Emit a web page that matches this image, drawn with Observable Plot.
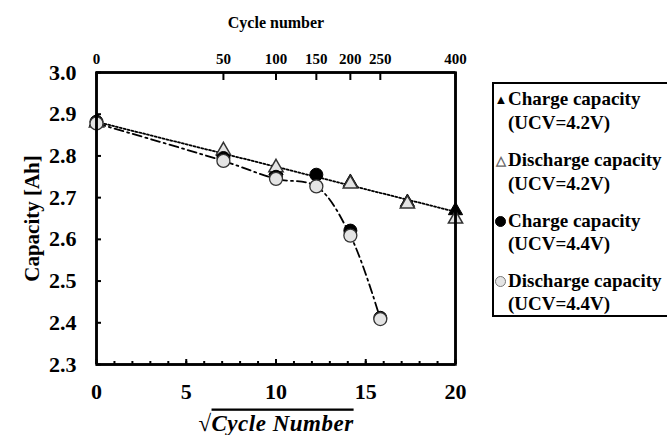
<!DOCTYPE html>
<html><head><meta charset="utf-8">
<script src="https://cdn.jsdelivr.net/npm/d3@7"></script>
<script src="https://cdn.jsdelivr.net/npm/@observablehq/plot@0.6"></script>
<style>
body{margin:0;background:#fff;overflow:hidden;}
#wrap{position:relative;width:667px;height:435px;overflow:hidden;background:#fff;}
#legend{position:absolute;left:492px;top:82px;width:200px;height:235px;border:2px solid #000;box-sizing:border-box;
  font:bold 19px "Liberation Serif",serif;color:#000;padding-top:3px;}
.item{margin-bottom:14px;}
.l1,.l2{line-height:23px;white-space:nowrap;}
.l2{padding-left:14px;}
.sym{display:inline-block;width:14px;text-align:center;font-size:13px;vertical-align:1px;}
.circ{display:inline-block;width:11px;height:11px;border-radius:50%;box-sizing:border-box;margin:0 2px 0 1px;vertical-align:0px;}
</style></head>
<body><div id="wrap"></div>
<script>
// Data (cycle numbers; x is plotted as the square root of the cycle number)
const cycles42 = [0, 50, 100, 200, 300, 400];
const charge42 = [2.882, 2.810, 2.765, 2.737, 2.689, 2.669];
const discharge42 = [2.879, 2.813, 2.772, 2.733, 2.685, 2.649];
const cycles44 = [0, 50, 100, 150, 200, 250];
const charge44 = [2.882, 2.795, 2.750, 2.755, 2.621, 2.412];
const discharge44 = [2.878, 2.788, 2.745, 2.727, 2.609, 2.409];
const xDomain = [0, 20];
const yDomain = [2.3, 3.0];
const sqrtTicks = [0, 5, 10, 15, 20];
const minorTicks = [0,1,2,3,4,5,6,7,8,9,10,11,12,13,14,15,16,17,18,19,20];
const cycleTicks = [0, 50, 100, 150, 200, 250, 400];
const yTicks = [2.3, 2.4, 2.5, 2.6, 2.7, 2.8, 2.9, 3.0];
const legendItems = [
  {name: "Charge capacity", ucv: "(UCV=4.2V)"},
  {name: "Discharge capacity", ucv: "(UCV=4.2V)"},
  {name: "Charge capacity", ucv: "(UCV=4.4V)"},
  {name: "Discharge capacity", ucv: "(UCV=4.4V)"}
];

const mk = (cyc, vals) => cyc.map((c, i) => ({x: Math.sqrt(c), y: vals[i]}));
const c42 = mk(cycles42, charge42), d42 = mk(cycles42, discharge42);
const c44 = mk(cycles44, charge44), d44 = mk(cycles44, discharge44);
const topTicks = cycleTicks.map(Math.sqrt);

const W = 667, H = 435, mT = 72, mB = 71, mL = 96, mR = 212;
const pw = W - mL - mR, ph = H - mT - mB;
const serif = '"Liberation Serif", serif';

const svg = Plot.plot({
  width: W, height: H,
  marginTop: mT, marginBottom: mB, marginLeft: mL, marginRight: mR,
  style: {fontFamily: serif, fontWeight: "bold", color: "#000", background: "#fff"},
  x: {domain: xDomain},
  y: {domain: yDomain},
  marks: [
    Plot.linearRegressionY(c42, {x: "x", y: "y", ci: 0, stroke: "#000", strokeWidth: 1.8, strokeDasharray: "2,2"}),
    Plot.line(d44, {x: "x", y: "y", curve: "catmull-rom", stroke: "#000", strokeWidth: 1.8, strokeDasharray: "9,4,2,4"}),
    Plot.dot(c42, {x: "x", y: "y", symbol: "triangle", r: 5.3, fill: "#000", stroke: "#000", strokeWidth: 1}),
    Plot.dot(d42, {x: "x", y: "y", symbol: "triangle", r: 5.3, fill: "#e4e4e4", stroke: "#333", strokeWidth: 1.5}),
    Plot.dot(c44, {x: "x", y: "y", symbol: "circle", r: 6.5, fill: "#000", stroke: "#000", strokeWidth: 1}),
    Plot.dot(d44, {x: "x", y: "y", symbol: "circle", r: 6.5, fill: "#e4e4e4", stroke: "#333", strokeWidth: 1.3}),
    // tick labels and axis titles
    Plot.axisY(yTicks, {tickSize: 0, tickPadding: 20, tickFormat: d => d.toFixed(1), fontSize: 22,
      label: "Capacity [Ah]", labelAnchor: "center", labelOffset: 72, labelArrow: "none"}),
    Plot.axisX(topTicks, {anchor: "top", tickSize: 0, tickPadding: 9, fontSize: 15,
      tickFormat: d => String(Math.round(d * d)),
      label: "Cycle number", labelAnchor: "center", labelOffset: 56, labelArrow: "none"}),
    Plot.axisX(sqrtTicks, {anchor: "bottom", tickSize: 0, tickPadding: 19, fontSize: 22,
      label: "Cycle Number", labelAnchor: "center", labelOffset: 66, labelArrow: "none"}),
    // inward tick marks
    Plot.ruleY(yTicks, {stroke: "#000", strokeWidth: 2, insetRight: pw - 5}),
    Plot.ruleX(minorTicks, {stroke: "#000", strokeWidth: 2, insetTop: ph - 3}),
    Plot.ruleX(sqrtTicks, {stroke: "#000", strokeWidth: 2, insetTop: ph - 5}),
    Plot.ruleX(topTicks, {stroke: "#000", strokeWidth: 2, insetBottom: ph - 8}),
    // frame
    Plot.ruleX(xDomain, {stroke: "#000", strokeWidth: 2.5}),
    Plot.ruleY(yDomain, {stroke: "#000", strokeWidth: 2.5}),
    Plot.frame({stroke: "#000", strokeWidth: 2.5})
  ]
});

// Axis text styling
d3.select(svg).selectAll("text").each(function() {
  const t = d3.select(this);
  const s = t.text();
  t.attr("font-family", serif).attr("font-weight", "bold");
  if (s === "Cycle number") t.attr("font-size", 16);
  if (s === "Capacity [Ah]") t.attr("font-size", 21);
  if (s === "Cycle Number") {
    t.text("").attr("font-size", 23).attr("font-style", "italic").attr("letter-spacing", "0.5px");
    t.append("tspan").attr("font-style", "normal").text("√");
    t.append("tspan").style("text-decoration", "overline").text("Cycle Number");
  }
});

const wrap = document.getElementById("wrap");
wrap.appendChild(svg);

// Legend
const syms = [
  '<span class="sym" style="color:#000">▲</span>',
  '<span class="sym" style="color:#666">△</span>',
  '<span class="circ" style="background:#000;border:1px solid #000"></span>',
  '<span class="circ" style="background:#e4e4e4;border:1px solid #777"></span>'
];
const leg = document.createElement("div");
leg.id = "legend";
leg.innerHTML = legendItems.map((d, i) =>
  `<div class="item"><div class="l1">${syms[i]}${d.name}</div><div class="l2">${d.ucv}</div></div>`).join("");
wrap.appendChild(leg);
</script></body></html>
